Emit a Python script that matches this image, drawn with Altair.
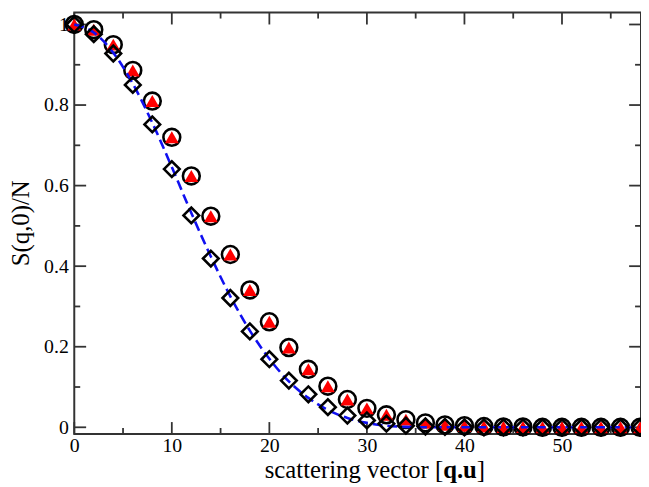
import altair as alt
import pandas as pd

# scattering vector values
q = [0, 2, 4, 6, 8, 10, 12, 14, 16, 18, 20, 22, 24, 26, 28, 30, 32, 34, 36, 38,
     40, 42, 44, 46, 48, 50, 52, 54, 56, 58]
# circles / triangles series
circ = [1.0, 0.987, 0.950, 0.886, 0.810, 0.720, 0.624, 0.524, 0.429, 0.341, 0.262, 0.198,
        0.144, 0.102, 0.069, 0.047, 0.031, 0.019, 0.011, 0.006, 0.004, 0.002, 0.001, 0.001,
        0.0, 0.0, 0.0, 0.0, 0.0, 0.0]
# diamonds series
diam = [1.0, 0.976, 0.928, 0.850, 0.752, 0.641, 0.526, 0.419, 0.321, 0.238, 0.169, 0.116,
        0.082, 0.050, 0.029, 0.017, 0.009, 0.004, 0.002, 0.001, 0.0, 0.0, 0.0, 0.0,
        0.0, 0.0, 0.0, 0.0, 0.0, 0.0]
# dashed curve
curve = [1.0, 0.980, 0.930, 0.853, 0.756, 0.646, 0.532, 0.424, 0.325, 0.240, 0.170, 0.114,
         0.073, 0.043, 0.023, 0.011, 0.004, 0.001, 0.0, 0.0, 0.0, 0.0, 0.0, 0.0,
         0.0, 0.0, 0.0, 0.0, 0.0, 0.0]

x_major = [0, 10, 20, 30, 40, 50]
x_minor = [5, 15, 25, 35, 45, 55]
y_major = [0, 0.2, 0.4, 0.6, 0.8, 1.0]
y_minor = [0.1, 0.3, 0.5, 0.7, 0.9]

W, H = 573, 426
FONT = "Liberation Serif"

pts = pd.DataFrame({"q": q, "circ": circ, "diam": diam})
ln = pd.DataFrame({"q": q, "curve": curve})

xscale = alt.Scale(domain=[0, 58.1], nice=False, zero=False)
yscale = alt.Scale(domain=[-0.0165, 1.0295], nice=False, zero=False)

xaxis = alt.Axis(values=x_major, ticks=False, domain=False, grid=False, title=None,
                 labelFont=FONT, labelFontSize=20, labelColor="black", labelPadding=2,
                 labelFlush=False, labelOverlap=False)
yaxis = alt.Axis(values=y_major, ticks=False, domain=False, grid=False, title=None,
                 labelFont=FONT, labelFontSize=20, labelColor="black", labelPadding=6,
                 labelExpr="toString(round(datum.value*10)/10)", labelFlush=False,
                 labelOverlap=False)

base = alt.Chart(pts)

circles = base.mark_point(shape="circle", filled=False, color="black", strokeWidth=2.6,
                          size=290, opacity=1).encode(
    x=alt.X("q:Q", scale=xscale, axis=xaxis),
    y=alt.Y("circ:Q", scale=yscale, axis=yaxis),
)
tris = base.mark_point(shape="triangle-up", filled=True, color="#ff0000", strokeWidth=0,
                       size=195, opacity=1).encode(
    x=alt.X("q:Q"), y=alt.Y("circ:Q"))
diamonds = base.mark_point(shape="diamond", filled=False, color="black", strokeWidth=2.6,
                           size=250, opacity=1).encode(
    x=alt.X("q:Q"), y=alt.Y("diam:Q"))
line = alt.Chart(ln).mark_line(color="#1010f0", strokeWidth=2.6, strokeDash=[10, 5],
                               interpolate="monotone").encode(
    x=alt.X("q:Q"), y=alt.Y("curve:Q"))

tick_col = "#333333"


def xticks(vals, ln_):
    d = pd.DataFrame({"t": vals})
    bot = alt.Chart(d).mark_rule(color=tick_col, strokeWidth=1.8).encode(
        x=alt.X("t:Q"), y=alt.value(H), y2=alt.value(H - ln_))
    top = alt.Chart(d).mark_rule(color=tick_col, strokeWidth=1.8).encode(
        x=alt.X("t:Q"), y=alt.value(0), y2=alt.value(ln_))
    return [bot, top]


def yticks(vals, ln_):
    d = pd.DataFrame({"t": vals})
    left = alt.Chart(d).mark_rule(color=tick_col, strokeWidth=1.8).encode(
        y=alt.Y("t:Q"), x=alt.value(0), x2=alt.value(ln_))
    right = alt.Chart(d).mark_rule(color=tick_col, strokeWidth=1.8).encode(
        y=alt.Y("t:Q"), x=alt.value(W), x2=alt.value(W - ln_))
    return [left, right]


tick_layers = xticks(x_major, 12) + xticks(x_minor, 6) + yticks(y_major, 12) + yticks(y_minor, 6)

ttl = pd.DataFrame({"a": [0]})
t1 = alt.Chart(ttl).mark_text(text="scattering vector [", font=FONT, fontSize=25,
                              align="right", baseline="alphabetic", color="black").encode(
    x=alt.value(373), y=alt.value(471))
t2 = alt.Chart(ttl).mark_text(text="q.u", font=FONT, fontSize=25, fontWeight="bold",
                              align="left", baseline="alphabetic", color="black").encode(
    x=alt.value(373), y=alt.value(471))
t3 = alt.Chart(ttl).mark_text(text="]", font=FONT, fontSize=25,
                              align="left", baseline="alphabetic", color="black").encode(
    x=alt.value(407), y=alt.value(471))
ty = alt.Chart(ttl).mark_text(text="S(q,0)/N", font=FONT, fontSize=25, angle=270,
                              align="center", baseline="middle", color="black").encode(
    x=alt.value(-54), y=alt.value(213))

chart = alt.layer(
    *tick_layers, circles, tris, line, diamonds, t1, t2, t3, ty
).properties(
    width=W, height=H,
    autosize=alt.AutoSizeParams(type="none"),
    padding={"left": 67, "top": 2, "right": 0, "bottom": 52},
    background="white",
).configure_view(stroke="#333333", strokeWidth=2)

chart.save("out.html", embed_options={"renderer": "svg", "actions": False})
